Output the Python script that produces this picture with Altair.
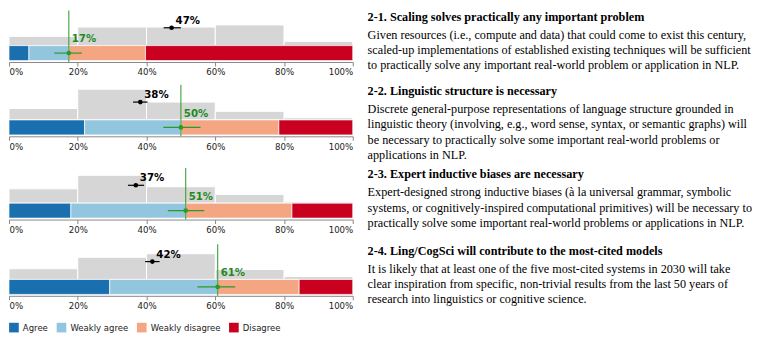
import altair as alt
import pandas as pd

questions = ["2-1", "2-2", "2-3", "2-4"]
responses = ["Agree", "Weakly agree", "Weakly disagree", "Disagree"]
colors = ["#1a6faf", "#92c5de", "#f4a582", "#ca0020"]

agree = [5.8, 22.0, 18.0, 29.3]
weakly_agree = [11.6, 28.0, 33.4, 31.4]
weakly_disagree = [22.3, 28.5, 30.9, 23.7]
disagree = [60.3, 21.5, 17.7, 15.6]

actual = [17.4, 50.0, 51.4, 60.7]
actual_lo = [13.2, 44.9, 46.2, 54.8]
actual_hi = [21.2, 55.7, 56.8, 65.8]

predicted = [47.3, 38.2, 36.9, 41.7]
pred_lo = [45.0, 36.1, 34.6, 39.6]
pred_hi = [50.0, 40.3, 39.3, 43.8]

bin_starts = [0, 20, 40, 60, 80]
pred_hist = [
    [13, 26, 26, 29, 6],
    [16, 43, 25, 12, 3],
    [20, 39, 23, 12, 2],
    [15, 31, 36, 14, 4],
]

titles = [
    "2-1. Scaling solves practically any important problem",
    "2-2. Linguistic structure is necessary",
    "2-3. Expert inductive biases are necessary",
    "2-4. Ling/CogSci will contribute to the most-cited models",
]
paras = [
    ["Given resources (i.e., compute and data) that could come to exist this century,",
     "scaled-up implementations of established existing techniques will be sufficient",
     "to practically solve any important real-world problem or application in NLP."],
    ["Discrete general-purpose representations of language structure grounded in",
     "linguistic theory (involving, e.g., word sense, syntax, or semantic graphs) will",
     "be necessary to practically solve some important real-world problems or",
     "applications in NLP."],
    ["Expert-designed strong inductive biases (à la universal grammar, symbolic",
     "systems, or cognitively-inspired computational primitives) will be necessary to",
     "practically solve some important real-world problems or applications in NLP."],
    ["It is likely that at least one of the five most-cited systems in 2030 will take",
     "clear inspiration from specific, non-trivial results from the last 50 years of",
     "research into linguistics or cognitive science."],
]

GREEN = "#2a9a2a"
GREEN_TXT = "#1f8a1f"
W = 347
H = 52

xs = alt.Scale(domain=[0, 100], nice=False, zero=False)
ys = alt.Scale(domain=[-23, 49.2], nice=False, zero=False)
xaxis = alt.Axis(
    values=list(range(0, 101, 10)),
    labelExpr="datum.value % 20 == 0 ? datum.value + '%' : ''",
    grid=False, tickSize=4, labelFontSize=8.7, labelFont="DejaVu Sans",
    labelColor="#222", tickColor="#888", domainColor="#888", labelPadding=2,
    labelFlush=True, title=None,
)
legend = alt.Legend(
    orient="bottom", direction="horizontal", title=None, symbolType="square",
    symbolSize=95, symbolStrokeWidth=0, labelFontSize=8.6, labelFont="DejaVu Sans",
    labelColor="#222", columnPadding=8, labelOffset=4, offset=12,
)


def panel(i):
    vals = [agree[i], weakly_agree[i], weakly_disagree[i], disagree[i]]
    starts, ends, acc = [], [], 0.0
    for v in vals:
        starts.append(acc)
        acc += v
        ends.append(acc)
    seg = pd.DataFrame({"response": responses, "start": starts, "end": ends})
    hist = pd.DataFrame({"start": bin_starts, "end": [b + 20 for b in bin_starts],
                         "pct": pred_hist[i]})
    stats = pd.DataFrame({
        "actual": [actual[i]], "lo": [actual_lo[i]], "hi": [actual_hi[i]],
        "pred": [predicted[i]], "plo": [pred_lo[i]], "phi": [pred_hi[i]],
        "alabel": [f"{round(actual[i])}%"], "plabel": [f"{round(predicted[i])}%"],
    })
    h = alt.Chart(hist).mark_bar(color="#d6d6d6", stroke="white", strokeWidth=1).encode(
        x=alt.X("start:Q", scale=xs, axis=xaxis), x2="end:Q",
        y=alt.Y("pct:Q", scale=ys, axis=None), y2=alt.datum(0),
    )
    b = alt.Chart(seg).mark_bar(stroke="white", strokeWidth=0.7).encode(
        x=alt.X("start:Q", scale=xs, axis=xaxis), x2="end:Q",
        y=alt.datum(0), y2=alt.datum(-21),
        color=alt.Color("response:N", scale=alt.Scale(domain=responses, range=colors),
                        legend=legend),
    )
    base = alt.Chart(stats)
    vr = base.mark_rule(color=GREEN, strokeWidth=1.2, opacity=0.85).encode(x=alt.X("actual:Q", scale=xs))
    ge = base.mark_rule(color=GREEN, strokeWidth=1.2).encode(
        x=alt.X("lo:Q", scale=xs), x2="hi:Q", y=alt.datum(-10.5))
    gp = base.mark_circle(color=GREEN, size=22, opacity=1).encode(
        x=alt.X("actual:Q", scale=xs), y=alt.datum(-10.5))
    gl = base.mark_text(align="left", baseline="middle", dx=3, dy=-14, fontWeight="bold",
                        fontSize=10.3, font="DejaVu Sans", color=GREEN_TXT).encode(
        x=alt.X("actual:Q", scale=xs), y=alt.datum(-10.5), text="alabel:N")
    pe = base.mark_rule(color="black", strokeWidth=1.2).encode(
        x=alt.X("plo:Q", scale=xs), x2="phi:Q", y=alt.datum(25))
    pp = base.mark_circle(color="black", size=22, opacity=1).encode(
        x=alt.X("pred:Q", scale=xs), y=alt.datum(25))
    pl = base.mark_text(align="left", baseline="middle", dx=4, dy=-7, fontWeight="bold",
                        fontSize=10.3, font="DejaVu Sans", color="black").encode(
        x=alt.X("pred:Q", scale=xs), y=alt.datum(25), text="plabel:N")
    return alt.layer(h, b, vr, ge, gp, gl, pe, pp, pl).properties(width=W, height=H)


def text_block(i, hh):
    base = alt.Chart(alt.Data(values=[{}]))
    t = base.mark_text(align="left", baseline="alphabetic", font="Liberation Serif",
                       fontSize=12.3, fontWeight="bold", color="black").encode(
        x=alt.value(0), y=alt.value(10.5), text=alt.value(titles[i]))
    p = base.mark_text(align="left", baseline="alphabetic", font="Liberation Serif",
                       fontSize=12.3, lineHeight=15.5, color="black").encode(
        x=alt.value(0), y=alt.value(28.5), text=alt.value(paras[i]))
    return alt.layer(t, p).properties(width=385, height=hh)


text_heights = [70, 79, 72, 65]
rows = [alt.hconcat(panel(i), text_block(i, text_heights[i]), spacing=14) for i in range(4)]
chart = alt.vconcat(*rows, spacing=4).resolve_scale(color="shared").properties(
    padding=0
).configure_view(stroke=None)

chart.save("out.html", embed_options={"renderer": "svg", "actions": False})
